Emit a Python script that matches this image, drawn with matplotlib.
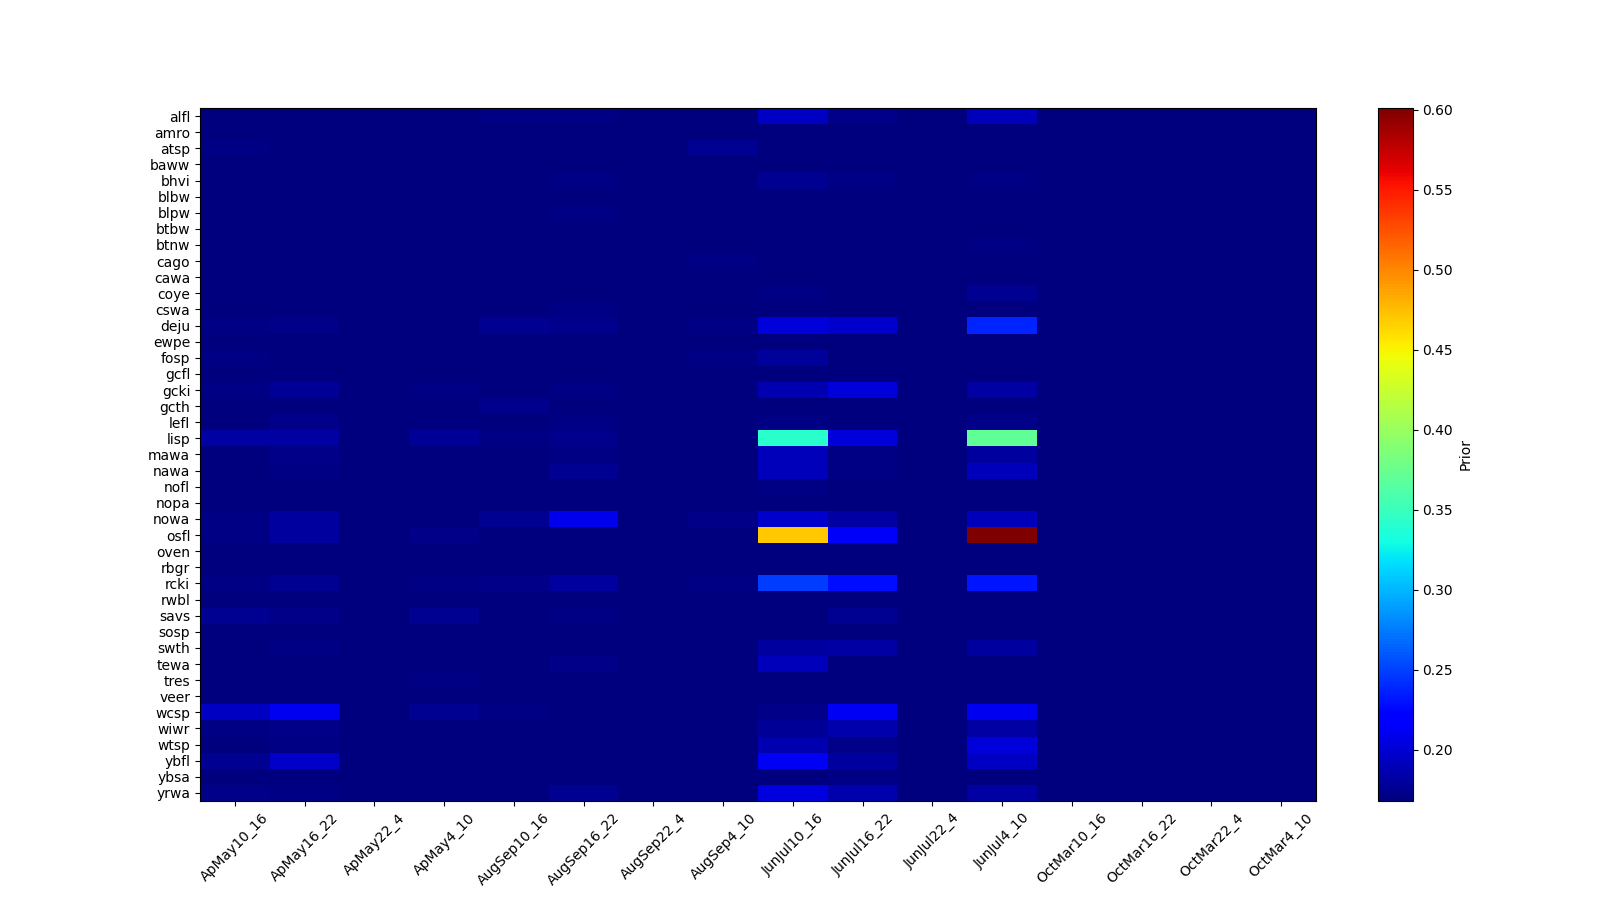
import numpy as np
import matplotlib
matplotlib.use("Agg")
import matplotlib.pyplot as plt

species = ["alfl", "amro", "atsp", "baww", "bhvi", "blbw", "blpw", "btbw", "btnw",
           "cago", "cawa", "coye", "cswa", "deju", "ewpe", "fosp", "gcfl", "gcki",
           "gcth", "lefl", "lisp", "mawa", "nawa", "nofl", "nopa", "nowa", "osfl",
           "oven", "rbgr", "rcki", "rwbl", "savs", "sosp", "swth", "tewa", "tres",
           "veer", "wcsp", "wiwr", "wtsp", "ybfl", "ybsa", "yrwa"]

periods = ["ApMay10_16", "ApMay16_22", "ApMay22_4", "ApMay4_10",
           "AugSep10_16", "AugSep16_22", "AugSep22_4", "AugSep4_10",
           "JunJul10_16", "JunJul16_22", "JunJul22_4", "JunJul4_10",
           "OctMar10_16", "OctMar16_22", "OctMar22_4", "OctMar4_10"]

# prior per species, one list per period block (columns)
apmay10_16 = [.169, .169, .170, .168, .168, .168, .168, .168, .168, .168, .168, .168, .168, .171, .169,
              .170, .168, .171, .169, .168, .183, .168, .168, .168, .168, .170, .170, .168, .168, .171,
              .169, .175, .168, .168, .168, .168, .168, .194, .170, .169, .175, .168, .173]
apmay16_22 = [.169, .168, .168, .168, .168, .168, .168, .168, .168, .168, .168, .168, .168, .173, .168,
              .169, .168, .178, .168, .173, .183, .172, .170, .168, .168, .180, .181, .168, .168, .176,
              .168, .173, .168, .170, .168, .168, .168, .211, .172, .170, .196, .168, .170]
apmay4_10 = [.168, .168, .168, .168, .168, .168, .168, .168, .168, .168, .168, .168, .168, .168, .168,
             .168, .168, .170, .168, .168, .178, .168, .168, .168, .168, .169, .173, .168, .168, .170,
             .168, .175, .168, .168, .168, .170, .168, .175, .169, .168, .168, .168, .168]
augsep10_16 = [.171, .168, .168, .168, .168, .168, .168, .168, .168, .168, .168, .168, .168, .176, .168,
               .168, .168, .169, .174, .168, .170, .168, .168, .168, .168, .175, .168, .168, .168, .172,
               .168, .168, .168, .168, .168, .168, .168, .170, .168, .168, .169, .168, .168]
augsep16_22 = [.171, .168, .168, .168, .171, .169, .171, .168, .168, .168, .168, .168, .170, .174, .168,
               .168, .168, .171, .168, .170, .174, .170, .176, .168, .168, .210, .168, .168, .168, .181,
               .168, .170, .168, .168, .172, .168, .168, .168, .168, .168, .168, .168, .175]
augsep4_10 = [.168, .168, .175, .168, .168, .168, .168, .168, .168, .171, .168, .168, .168, .170, .168,
              .171, .168, .168, .168, .168, .168, .168, .168, .168, .168, .172, .168, .168, .168, .170,
              .168, .168, .168, .168, .168, .168, .168, .168, .168, .168, .168, .168, .168]
junjul10_16 = [.194, .168, .168, .168, .175, .168, .168, .168, .169, .168, .168, .170, .168, .203, .168,
               .179, .168, .188, .168, .171, .342, .190, .190, .170, .168, .198, .470, .168, .168, .248,
               .168, .168, .168, .181, .190, .168, .168, .172, .177, .188, .2125, .169, .205]
junjul16_22 = [.173, .168, .168, .168, .170, .168, .168, .168, .169, .168, .168, .168, .168, .198, .168,
               .168, .168, .203, .168, .169, .203, .171, .171, .169, .168, .183, .215, .168, .168, .228,
               .168, .175, .168, .183, .169, .168, .168, .2125, .185, .173, .181, .171, .185]
junjul4_10 = [.190, .168, .168, .168, .171, .168, .168, .168, .170, .169, .169, .175, .168, .238, .168,
              .168, .168, .183, .168, .173, .370, .181, .190, .169, .168, .190, .601, .168, .168, .231,
              .168, .168, .168, .181, .169, .168, .168, .2106, .183, .203, .194, .169, .183]
base = [.168] * len(species)

columns = [apmay10_16, apmay16_22, base, apmay4_10,
           augsep10_16, augsep16_22, base, augsep4_10,
           junjul10_16, junjul16_22, base, junjul4_10,
           base, base, base, base]

data = np.array(columns).T

fig = plt.figure(figsize=(16, 9), dpi=100)
im = plt.imshow(data, aspect='auto', cmap='jet', interpolation='nearest')
plt.yticks(range(len(species)), species)
plt.xticks(range(len(periods)), periods, rotation=45)
cb = plt.colorbar(im, fraction=0.05)
cb.set_label('Prior')

fig.savefig('out.png', dpi=100)
